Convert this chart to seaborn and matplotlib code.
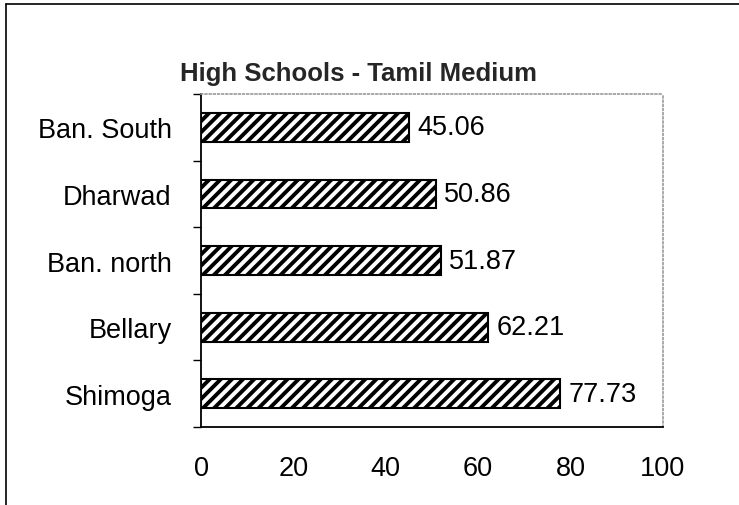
import matplotlib
matplotlib.use("Agg")
import matplotlib.pyplot as plt
import seaborn as sns
import pandas as pd
from matplotlib.lines import Line2D

categories = ["Ban. South", "Dharwad", "Ban. north", "Bellary", "Shimoga"]
values = [45.06, 50.86, 51.87, 62.21, 77.73]
x_ticks = [0, 20, 40, 60, 80, 100]
title = "High Schools - Tamil Medium"

sns.set_theme(style="white")
plt.rcParams['font.family'] = ['Liberation Sans', 'DejaVu Sans']
plt.rcParams['hatch.linewidth'] = 2.8
plt.rcParams['hatch.color'] = 'black'

df = pd.DataFrame({"district": categories, "value": values})

fig = plt.figure(figsize=(7.39, 5.06), dpi=100)
ax = fig.add_axes([0.272, 0.154, 0.625, 0.658])

sns.barplot(data=df, x="value", y="district", order=categories, orient="h",
            color="white", edgecolor="black", linewidth=1.5, width=0.43, ax=ax)
for p in ax.patches:
    p.set_hatch("///")
    p.set_facecolor("white")
    p.set_edgecolor("black")

for i, v in enumerate(values):
    ax.text(v + 1.8, i, f"{v:.2f}", va="center", ha="left", fontsize=19.5, color="black")

ax.set_xlim(0, 100)
ax.set_ylim(len(categories) - 0.5, -0.5)
ax.set_xticks(x_ticks)
ax.set_xticklabels([str(t) for t in x_ticks], fontsize=19.5, color="black")
ax.set_xlabel("")
ax.set_ylabel("")
ax.set_yticks(range(len(categories)))
ax.set_yticklabels(categories, fontsize=19.5, color="black")
ax.tick_params(axis="y", length=0, pad=21)
ax.tick_params(axis="x", length=6, width=1, direction="out", color="black", pad=14)
# minor ticks at category boundaries
ax.set_yticks([i + 0.5 for i in range(-1, len(categories))], minor=True)
ax.tick_params(axis="y", which="minor", length=6, width=1, color="black", direction="out", left=True)

for side in ["left", "bottom"]:
    ax.spines[side].set_color("black")
    ax.spines[side].set_linewidth(1.3)
for side in ["top", "right"]:
    ax.spines[side].set_color("#999999")
    ax.spines[side].set_linewidth(1.2)
    ax.spines[side].set_linestyle((0, (1, 1.5)))

fig.text(0.485, 0.853, title, ha="center", va="center", fontsize=18.5, fontweight="bold")

# outer chart frame (top and left edges)
fig.add_artist(Line2D([0.008, 0.008], [0.0, 0.99], color="black", linewidth=1.2, transform=fig.transFigure))
fig.add_artist(Line2D([0.008, 1.0], [0.99, 0.99], color="black", linewidth=1.2, transform=fig.transFigure))

fig.savefig("out.png", dpi=100)
